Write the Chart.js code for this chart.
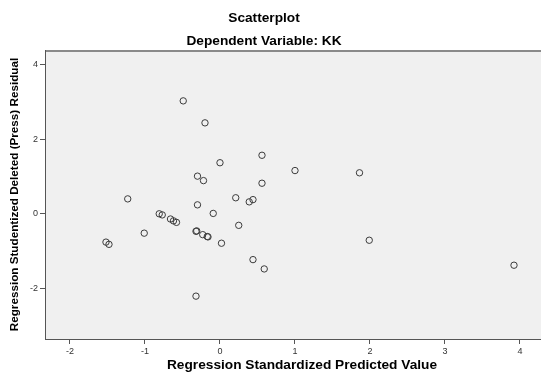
<!DOCTYPE html>
<html>
<head>
<meta charset="utf-8">
<script src="https://cdn.jsdelivr.net/npm/chart.js@4/dist/chart.umd.min.js"></script>
<style>
html,body{margin:0;padding:0;background:#fff;}
canvas{display:block;}
</style>
</head>
<body>
<canvas id="c" width="541" height="374"></canvas>
<script>
// Regression Standardized Predicted Value
const predictedValues = [
  -0.49, -0.20, 0.00, 0.56, 1.00, 1.86, -0.30, -0.22, 0.56, -1.23,
  0.21, 0.44, 0.39, -0.30, -0.81, -0.77, -0.09, -0.66, -0.62, -0.58,
  -1.01, -0.32, -0.31, -0.23, -0.16, -0.17, 0.25, 0.02, -1.52, -1.48,
  1.99, 0.44, 0.59, 3.92, -0.32
];
// Regression Studentized Deleted (Press) Residual
const deletedResiduals = [
  3.03, 2.44, 1.37, 1.57, 1.16, 1.10, 1.01, 0.89, 0.82, 0.40,
  0.43, 0.38, 0.32, 0.24, 0.00, -0.03, 0.01, -0.14, -0.19, -0.23,
  -0.52, -0.47, -0.46, -0.56, -0.62, -0.61, -0.31, -0.79, -0.76, -0.82,
  -0.71, -1.23, -1.48, -1.38, -2.21
];
const xTickValues = [-2, -1, 0, 1, 2, 3, 4];
const yTickValues = [-2, 0, 2, 4];
const chartTitle = "Scatterplot";
const chartSubtitle = "Dependent Variable: KK";
const xAxisTitle = "Regression Standardized Predicted Value";
const yAxisTitle = "Regression Studentized Deleted (Press) Residual";

const points = predictedValues.map((x, i) => ({x: x, y: deletedResiduals[i]}));

const decorPlugin = {
  id: 'decor',
  beforeDatasetsDraw(chart) {
    const {ctx, chartArea: a} = chart;
    ctx.save();
    ctx.fillStyle = '#f0f0f0';
    ctx.fillRect(a.left, a.top, a.right - a.left, a.bottom - a.top);
    ctx.strokeStyle = '#8a8a8a';
    ctx.lineWidth = 2;
    ctx.beginPath();
    ctx.moveTo(a.left, a.top + 1);
    ctx.lineTo(a.right, a.top + 1);
    ctx.stroke();
    ctx.strokeStyle = '#555';
    ctx.lineWidth = 1;
    ctx.beginPath();
    ctx.moveTo(a.left + 0.5, a.top);
    ctx.lineTo(a.left + 0.5, a.bottom);
    ctx.moveTo(a.left, a.bottom + 0.5);
    ctx.lineTo(a.right, a.bottom + 0.5);
    ctx.stroke();
    ctx.restore();
  },
  afterDraw(chart) {
    const {ctx, chartArea: a} = chart;
    ctx.save();
    ctx.fillStyle = '#000';
    ctx.textAlign = 'center';
    ctx.textBaseline = 'middle';
    ctx.font = 'bold 13.7px "Liberation Sans", Arial, sans-serif';
    ctx.fillText(chartTitle, 264, 18);
    ctx.fillText(chartSubtitle, 264, 41);
    ctx.fillText(xAxisTitle, 302, 365);
    ctx.font = 'bold 11.7px "Liberation Sans", Arial, sans-serif';
    ctx.translate(15, (a.top + a.bottom) / 2);
    ctx.rotate(-Math.PI / 2);
    ctx.fillText(yAxisTitle, 0, 0);
    ctx.restore();
  }
};

new Chart(document.getElementById('c'), {
  type: 'scatter',
  data: {
    datasets: [{
      data: points,
      pointStyle: 'circle',
      pointRadius: 3.2,
      pointHoverRadius: 3.2,
      pointBackgroundColor: 'rgba(0,0,0,0)',
      pointBorderColor: '#3c3c3c',
      pointBorderWidth: 1
    }]
  },
  options: {
    responsive: false,
    animation: false,
    devicePixelRatio: 1,
    layout: {autoPadding: false, padding: {left: 0, right: 0, top: 50, bottom: 0}},
    plugins: {
      legend: {display: false},
      tooltip: {enabled: false},
      title: {display: false}
    },
    scales: {
      x: {
        type: 'linear',
        min: -2.333,
        max: 4.28,
        afterFit(scale) { scale.height = 35; scale.paddingLeft = 0; scale.paddingRight = 0; },
        afterBuildTicks(scale) { scale.ticks = xTickValues.map(v => ({value: v})); },
        border: {display: false},
        grid: {drawOnChartArea: false, drawTicks: true, tickLength: 5, color: '#555'},
        ticks: {
          includeBounds: false,
          padding: 2,
          color: '#333',
          font: {family: '"Liberation Sans", Arial, sans-serif', size: 9},
          maxRotation: 0
        }
      },
      y: {
        type: 'linear',
        min: -3.36,
        max: 4.395,
        afterFit(scale) { scale.width = 45; scale.paddingTop = 0; scale.paddingBottom = 0; },
        afterBuildTicks(scale) { scale.ticks = yTickValues.map(v => ({value: v})); },
        border: {display: false},
        grid: {drawOnChartArea: false, drawTicks: true, tickLength: 5, color: '#555'},
        ticks: {
          includeBounds: false,
          padding: 2,
          color: '#333',
          font: {family: '"Liberation Sans", Arial, sans-serif', size: 9}
        }
      }
    }
  },
  plugins: [decorPlugin]
});
</script>
</body>
</html>
